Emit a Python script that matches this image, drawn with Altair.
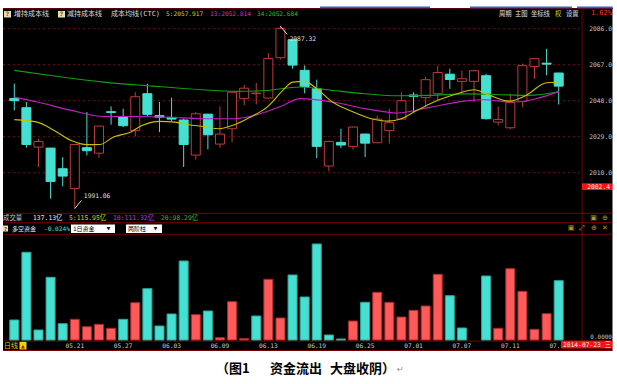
import altair as alt
import pandas as pd

MONO = "DejaVu Sans Mono"
CJK = "Noto Sans CJK SC"
MIX = "DejaVu Sans Mono, Noto Sans CJK SC"

# ---------------- data ----------------
opens = [2049.2, 2044.3, 2023.5, 2023.0, 2012.1, 2001.6, 2023.2, 2020.3, 2042.2, 2039.6,
         2032.2, 2051.7, 2040.1, 2039.2, 2037.8, 2019.3, 2040.9, 2025.1, 2033.2, 2049.1,
         2051.7, 2049.4, 2070.7, 2080.2, 2064.0, 2054.3, 2013.5, 2026.0, 2023.9, 2030.4,
         2025.8, 2032.2, 2038.3, 2051.0, 2049.6, 2051.7, 2062.0, 2058.2, 2058.2, 2061.2,
         2036.7, 2033.7, 2047.6, 2066.1, 2067.8, 2062.6]
closes = [2048.0, 2024.9, 2026.5, 2005.4, 2008.2, 2024.9, 2021.6, 2034.6, 2041.8, 2034.8,
          2050.1, 2040.8, 2039.3, 2038.3, 2024.9, 2041.1, 2030.0, 2030.4, 2052.5, 2054.6,
          2052.0, 2070.3, 2086.2, 2066.8, 2055.5, 2023.9, 2026.5, 2024.6, 2034.1, 2025.6,
          2038.3, 2036.4, 2048.0, 2050.3, 2059.1, 2062.9, 2059.2, 2059.6, 2063.8, 2038.5,
          2038.1, 2047.1, 2066.5, 2070.2, 2067.3, 2055.7]
highs = [2057.0, 2047.3, 2027.9, 2023.0, 2018.2, 2024.9, 2042.0, 2034.6, 2045.0, 2043.8,
         2052.5, 2057.0, 2047.3, 2049.6, 2038.5, 2042.0, 2040.9, 2045.0, 2052.5, 2056.4,
         2057.3, 2073.1, 2087.32, 2080.5, 2066.6, 2059.1, 2026.8, 2033.2, 2034.3, 2030.6,
         2040.2, 2043.8, 2052.5, 2052.5, 2060.5, 2066.6, 2064.9, 2064.0, 2064.4, 2062.2,
         2045.0, 2051.7, 2067.5, 2070.3, 2075.4, 2062.8]
lows = [2042.9, 2023.2, 2013.0, 1996.3, 2002.8, 1991.06, 2019.1, 2017.9, 2035.3, 2034.1,
        2029.2, 2039.7, 2031.4, 2037.2, 2013.0, 2016.9, 2022.3, 2023.2, 2026.1, 2045.5,
        2046.0, 2049.1, 2069.8, 2064.9, 2051.9, 2017.7, 2010.8, 2023.0, 2022.1, 2018.2,
        2025.6, 2025.3, 2038.1, 2042.0, 2044.6, 2048.2, 2054.3, 2051.7, 2047.3, 2038.0,
        2035.0, 2033.0, 2044.6, 2059.6, 2061.4, 2046.0]

# signed fund flow (positive = inflow, red; negative = outflow, cyan)
flows = [-20.0, -87.7, -10.0, -62.7, -16.3, 20.7, 13.3, 15.7, 11.7, -20.7,
         37.3, -51.3, -14.0, -26.0, -79.0, 25.3, -29.0, 2.3, 38.3, 1.3,
         -24.0, 60.7, 22.0, -65.0, -43.0, -96.0, -5.0, -1.0, 19.0, -37.7,
         47.7, 37.7, 23.0, 29.7, 34.0, 65.7, -44.3, -12.0, 0.0, -64.0,
         11.7, 71.3, 48.7, 10.7, 26.3, -59.3]

ma5_i = [0, 1.9, 3.3, 4.7, 6.0, 7.1, 8.2, 9.6, 10.6, 12.0, 13.3, 14.4, 15.7, 16.9, 18.2,
         19.5, 20.9, 22.2, 23.0, 24.0, 25.0, 26.3, 27.7, 29.5, 30.9, 32.0, 33.3, 35.0,
         36.6, 38.0, 39.3, 40.9, 42.3, 43.9, 45]
ma5_v = [2038.0, 2036.7, 2032.3, 2027.0, 2024.8, 2024.9, 2028.8, 2031.4, 2035.0, 2037.1,
         2036.7, 2035.3, 2034.4, 2033.2, 2035.3, 2039.3, 2044.6, 2053.4, 2057.8, 2058.2,
         2054.3, 2047.3, 2042.9, 2038.5, 2037.2, 2038.5, 2042.9, 2048.2, 2051.7, 2053.8,
         2050.8, 2047.8, 2050.8, 2057.3, 2057.9]
ma13_i = [0, 1.9, 4.7, 7.4, 10.0, 12.8, 15.5, 18.2, 20.3, 22.2, 23.6, 26.3, 29.0, 31.7,
          34.4, 37.2, 38.8, 41.2, 45]
ma13_v = [2049.9, 2047.3, 2042.9, 2039.7, 2039.7, 2039.3, 2038.5, 2038.5, 2041.1, 2045.5,
          2049.1, 2047.3, 2043.8, 2041.5, 2044.6, 2047.8, 2048.5, 2047.3, 2052.8]
ma34_i = [0, 3.3, 7.4, 11.4, 15.5, 18.2, 20.9, 23.6, 26.3, 29.0, 31.7, 34.4, 37.2, 39.8,
          42.5, 45]
ma34_v = [2064.0, 2061.0, 2057.8, 2055.7, 2053.8, 2052.9, 2053.4, 2055.2, 2053.4, 2051.7,
          2050.6, 2050.8, 2051.6, 2051.3, 2050.8, 2052.7]

price_ticks = [2086.0, 2067.0, 2048.0, 2029.0, 2010.0]
date_idx = [5, 9, 13, 17, 21, 25, 29, 33, 37, 41, 45]
date_lbl = ["05.21", "05.27", "06.03", "06.09", "06.13", "06.19", "06.25",
            "07.01", "07.07", "07.11", "07.17"]

header_left = ["增持成本线", "减持成本线", "成本均线(CTC)"]
header_ma = ["5:2057.917", "13:2052.814", "34:2052.684"]
header_menu = ["周期", "主图", "坐标线", "权", "设置"]
vol_texts = ["成交量", "137.13亿", "5:115.95亿", "10:111.32亿", "20:98.29亿"]
flow_texts = ["多空资金", "-0.024%", "1日资金", "两阶柱"]
cursor_price = "2002.4"
cursor_date = "2014-07-23 三"
pct_text = "1.62%"
caption = ["（图1", "资金流出", "大盘收阴）"]

# ---------------- styles ----------------
CYAN = "#46e0d2"
RED_C = "#bc3c3c"
RED_F = "#ff5a5a"
GRID = "#760c0c"
LINE = "#7a0000"
YEL, MAG, GRN = "#c8c000", "#c020c0", "#10a010"
YEL_T, MAG_T, GRN_T = "#d8d000", "#d030d0", "#20c020"

xs = alt.Scale(domain=[0, 45], range=[9.3, 563.7], nice=False, zero=False)
ps = alt.Scale(domain=[2010, 2086], range=[172.7, 28.7], nice=False, zero=False)
fs = alt.Scale(domain=[0, 100], range=[340, 240], nice=False, zero=False)

D = pd.DataFrame({"k": [0]})


def X(f="i"):
    return alt.X(f"{f}:Q", scale=xs, axis=None)


def P(f):
    return alt.Y(f"{f}:Q", scale=ps, axis=None)


def txt(s, x, y, color, size=6.5, font=MIX, align="left", weight="normal"):
    return alt.Chart(D).mark_text(text=s, align=align, baseline="middle", font=font,
                                  fontSize=size, fontWeight=weight, color=color).encode(
        x=alt.value(x), y=alt.value(y))


def box(x1, x2, y1, y2, fill):
    return alt.Chart(D).mark_rect(color=fill).encode(
        x=alt.value(x1), x2=alt.value(x2), y=alt.value(y1), y2=alt.value(y2))


def hline(y, x1, x2, color=LINE, w=1):
    return alt.Chart(D).mark_rule(color=color, strokeWidth=w).encode(
        x=alt.value(x1), x2=alt.value(x2), y=alt.value(y))


def vline(x, y1, y2, color=LINE, w=1):
    return alt.Chart(D).mark_rule(color=color, strokeWidth=w).encode(
        x=alt.value(x), y=alt.value(y1), y2=alt.value(y2))


cdf = pd.DataFrame({"i": range(len(opens)), "o": opens, "c": closes, "h": highs, "l": lows})
cdf["dir"] = ["up" if c >= o else "down" for o, c in zip(opens, closes)]
fdf = pd.DataFrame({"i": range(len(flows)), "f": flows})
ma_df = pd.concat([
    pd.DataFrame({"i": ma34_i, "v": ma34_v, "name": "ma34"}),
    pd.DataFrame({"i": ma13_i, "v": ma13_v, "name": "ma13"}),
    pd.DataFrame({"i": ma5_i, "v": ma5_v, "name": "ma5"}),
])
pt = pd.DataFrame({"p": price_ticks})
ddf = pd.DataFrame({"i": date_idx, "lbl": date_lbl})
hi_i = int(cdf["h"].idxmax())
lo_i = int(cdf["l"].idxmin())
adf = pd.DataFrame({"i": [hi_i, lo_i], "p": [highs[hi_i], lows[lo_i]], "s": [-1, 1]})

up = "datum.dir == 'up'"

layers = []
layers.append(box(3, 612.7, 8, 351, "#000000"))
# gridlines
layers.append(alt.Chart(pt).mark_rule(color=GRID, strokeDash=[2, 3], strokeWidth=1).encode(
    x=alt.value(3), x2=alt.value(582), y=P("p")))
# panel lines
for yy in [8.5, 213.3, 222.7, 234.3, 341, 350.5]:
    layers.append(hline(yy, 3, 612.7))
layers.append(vline(582, 8, 341))

# candles
layers.append(alt.Chart(cdf).mark_rule(strokeWidth=1).encode(
    x=X(), y=P("l"), y2=alt.Y2("h"),
    color=alt.condition(up, alt.value(RED_C), alt.value(CYAN))))
layers.append(alt.Chart(cdf).mark_bar(size=9, strokeWidth=1).encode(
    x=X(), y=P("o"), y2=alt.Y2("c"),
    fill=alt.condition(up, alt.value("#000000"), alt.value(CYAN)),
    stroke=alt.condition(up, alt.value(RED_C), alt.value(CYAN))))
# moving averages
layers.append(alt.Chart(ma_df).mark_line(strokeWidth=1.1, interpolate="monotone").encode(
    x=X(), y=P("v"),
    color=alt.Color("name:N", scale=alt.Scale(domain=["ma5", "ma13", "ma34"],
                                              range=[YEL, MAG, GRN]), legend=None)))
# extreme annotations
layers.append(alt.Chart(adf).transform_calculate(i2="datum.i + 0.55", p2="datum.p + datum.s * 4.3")
              .mark_rule(color="#d8d8d8", strokeWidth=1).encode(
    x=X(), y=P("p"), x2=alt.X2("i2"), y2=alt.Y2("p2")))
layers.append(alt.Chart(adf).transform_calculate(ti="datum.i + 0.75", tp="datum.p + datum.s * 6.6")
              .mark_text(align="left", baseline="middle", font=MONO, fontSize=6.3, color="#e0e0e0").encode(
    x=X("ti"), y=P("tp"), text=alt.Text("p:Q", format=".2f")))

# price labels
layers.append(alt.Chart(pt).mark_text(align="right", baseline="middle", font=MONO, fontSize=6.3,
                                      color="#c8c8c8").encode(
    x=alt.value(612), y=P("p"), text=alt.Text("p:Q", format=".1f")))

# fund flow bars
layers.append(alt.Chart(fdf).transform_calculate(a="abs(datum.f)", base="0")
              .transform_filter("datum.a > 0").mark_bar(size=9, strokeWidth=1).encode(
    x=X(), y=alt.Y("a:Q", scale=fs, axis=None), y2=alt.Y2("base:Q"),
    fill=alt.condition("datum.f > 0", alt.value(RED_F), alt.value(CYAN)),
    stroke=alt.condition("datum.f > 0", alt.value("#a82a2a"), alt.value("#2fa89c"))))
layers.append(txt("0.0000", 612, 337.3, "#c0c0c0", 6, MONO, "right"))

# date labels
layers.append(alt.Chart(ddf).mark_text(baseline="middle", align="center", font=MONO, fontSize=6.2,
                                       color="#c8c8c8").encode(
    x=X(), y=alt.value(345.7), text="lbl:N"))
layers.append(txt("日线", 4, 345.7, "#d8c800", 7, CJK))
layers.append(box(19.5, 26.5, 341.8, 349.5, "#e8d800"))
layers.append(txt("▲", 23, 346, "#d01010", 5, "DejaVu Sans", "center"))

# header
layers.append(box(4, 11, 11, 17.5, "#e8dcb0"))
layers.append(txt("?", 7.5, 14.3, "#a05000", 6, "DejaVu Sans", "center", "bold"))
layers.append(box(58, 65, 11, 17.5, "#e8dcb0"))
layers.append(txt("?", 61.5, 14.3, "#a05000", 6, "DejaVu Sans", "center", "bold"))
for s, x in zip(header_left, [14, 67, 111]):
    layers.append(txt(s, x, 14, "#d8d8d8", 7, MIX))
for s, x, c in zip(header_ma, [166, 210, 257], [YEL_T, MAG_T, GRN_T]):
    layers.append(txt(s, x, 14, c, 6.2, MONO))
for s, x in zip(header_menu, [499, 515, 531, 555, 566]):
    layers.append(txt(s, x, 14, YEL_T if s == "权" else "#e0e0e0", 6.3, CJK))
layers.append(txt(pct_text, 612, 12.5, "#ff3030", 7, MONO, "right"))

# volume row
for s, x, c in zip(vol_texts, [3, 33, 69, 113, 161], ["#c8c8c8", "#e8e8e8", YEL_T, MAG_T, GRN_T]):
    layers.append(txt(s, x, 218.3, c, 6.4, MIX))
layers.append(txt("▣", 593.5, 218, "#b09820", 7, "DejaVu Sans", "center"))
layers.append(txt("⊕", 605, 218, "#b09820", 7, "DejaVu Sans", "center"))

# fund row
layers.append(box(3, 8, 225.5, 231.5, "#e8dcb0"))
layers.append(txt("?", 5.5, 228.6, "#a05000", 5.5, "DejaVu Sans", "center", "bold"))
layers.append(txt(flow_texts[0], 12, 228.6, "#e8e8e8", 6, CJK))
layers.append(txt(flow_texts[1], 70, 228.6, CYAN, 6.2, MONO, "right"))
layers.append(box(71, 115, 224.5, 233, "#ffffff"))
layers.append(txt(flow_texts[2], 73, 228.8, "#000000", 6, MIX))
layers.append(txt("▼", 108.5, 229, "#000000", 4.5, "DejaVu Sans", "center"))
layers.append(box(126, 162, 224.5, 233, "#ffffff"))
layers.append(txt(flow_texts[3], 128, 228.8, "#000000", 6, CJK))
layers.append(txt("▼", 155.5, 229, "#000000", 4.5, "DejaVu Sans", "center"))
for s, x in zip(["▣", "⤢", "⊕", "✕"], [571, 582, 594, 605]):
    layers.append(txt(s, x, 227.5, "#b09820", 7, "DejaVu Sans", "center"))

# cursor boxes
layers.append(box(582, 612.7, 183.3, 190, "#ff1010"))
layers.append(txt(cursor_price, 610, 186.8, "#ffffff", 6.3, MONO, "right"))
layers.append(box(561, 612.7, 340.7, 348.5, "#ff1010"))
layers.append(txt(cursor_date, 563, 344.8, "#ffffff", 6.3, MIX))

# clipping strips (window chrome)
layers.append(box(0, 617, 0, 8, "#ffffff"))
layers.append(box(612.7, 617, 0, 384, "#ffffff"))
layers.append(hline(8.5, 3, 612.7, "#5a0010", 1))
for x1, x2 in [(320, 430), (470, 572), (577, 612.7)]:
    layers.append(box(x1, x2, 6.5, 8.2, "#3060c8"))

# caption
layers.append(txt(caption[0], 216, 369, "#000000", 13, CJK, "left", "bold"))
layers.append(txt(caption[1], 270, 369, "#000000", 13, CJK, "left", "bold"))
layers.append(txt(caption[2], 330, 369, "#000000", 13, CJK, "left", "bold"))
layers.append(txt("↵", 397, 370, "#909090", 8, "DejaVu Sans", "left"))

chart = alt.layer(*layers).resolve_scale(y="independent").properties(
    width=617, height=384, autosize=alt.AutoSizeParams(type="none"), padding=0,
    background="#ffffff"
).configure_view(stroke=None)

chart.save("out.html", embed_options={"renderer": "svg", "actions": False})
